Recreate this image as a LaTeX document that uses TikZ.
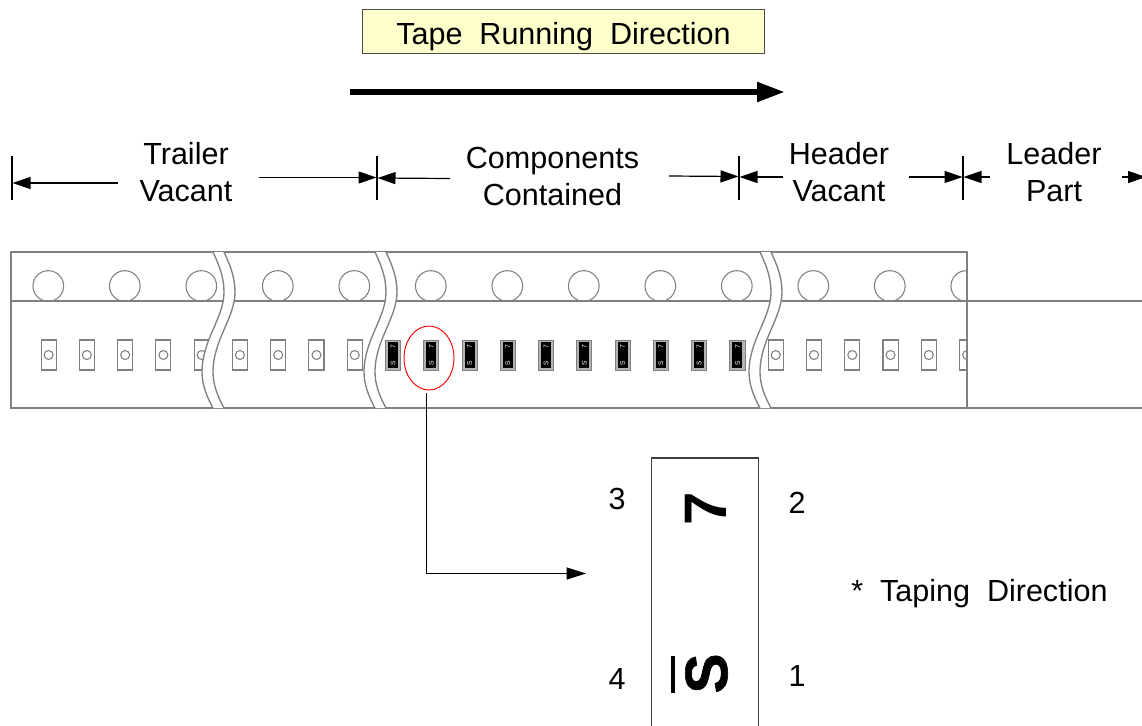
\documentclass[tikz,border=0pt]{standalone}
\usepackage{fontspec}
\setmainfont{Liberation Sans}
\newfontfamily\heavyfont[FakeBold=1]{Liberation Sans Bold}
\usetikzlibrary{arrows.meta,shapes.geometric}
\definecolor{tapeline}{HTML}{808080}
\definecolor{boxyellow}{HTML}{FFFFCC}
\newcommand{\breakband}[1]{%
  \begin{scope}[xshift=#1*0.75pt]
    \fill[white] (0,252) .. controls (6,265) and (11,277) .. (11,292) .. controls (11,318) and (-11,340) .. (-11,372) .. controls (-11,385) and (-6,397) .. (0,408)
      -- (11,408) .. controls (5,397) and (0,385) .. (0,372) .. controls (0,340) and (22,318) .. (22,292) .. controls (22,277) and (17,265) .. (11,252) -- cycle;
    \draw[tapestyle] (0,252) .. controls (6,265) and (11,277) .. (11,292) .. controls (11,318) and (-11,340) .. (-11,372) .. controls (-11,385) and (-6,397) .. (0,408);
    \draw[tapestyle] (11,252) .. controls (17,265) and (22,277) .. (22,292) .. controls (22,318) and (0,340) .. (0,372) .. controls (0,385) and (5,397) .. (11,408);
  \end{scope}}
\tikzset{
  tapestyle/.style={draw=tapeline,line width=1pt},
  thinstyle/.style={draw=tapeline,line width=0.8pt},
  label/.style={font=\fontsize{22.9}{28.2}\selectfont,align=center,inner sep=0pt,text=black},
  dimarrow/.style={draw=black,line width=0.9pt,-{Triangle[length=13.5pt,width=9pt]}},
  dimtick/.style={draw=black,line width=0.9pt},
  pocket/.style={thinstyle,fill=white,minimum width=11.3pt,minimum height=22.5pt,inner sep=0pt},
  chip/.style={draw=tapeline,line width=0.7pt,fill=black!30,minimum width=11.3pt,minimum height=22.5pt,inner sep=0pt},
}
\begin{document}
\begin{tikzpicture}[x=0.75pt,y=-0.75pt]
\useasboundingbox (0,0) rectangle (1142,725);
\clip (0,0) rectangle (1142,725);
% title and running arrow
\node[label,draw=black!70,line width=0.7pt,fill=boxyellow,minimum width=302pt,minimum height=33.5pt] (title) at (563.5,31.5) {\raisebox{-9.5pt}[0pt][0pt]{Tape\ \ Running\ \ Direction}};
\coordinate (runS) at (350,92);
\coordinate (runE) at (785,92);
\draw[line width=4.6pt,-{Triangle[length=21pt,width=14pt]}] (runS) -- (runE);
% dimension ticks
\foreach \n/\x in {a/12,b/377,c/739,d/963}{
  \coordinate (\n T) at (\x,156);
  \coordinate (\n B) at (\x,200);
  \draw[dimtick] (\n T) -- (\n B);
}
\node[label] (trailer) at (186,172) {Trailer\\Vacant};
\node[label] (components) at (552.5,176.5) {Components\\Contained};
\node[label] (header) at (839,172) {Header\\Vacant};
\node[label] (leader) at (1054,172) {Leader\\Part};
\coordinate (e1s) at (118,183); \coordinate (e1e) at (12.5,183);
\coordinate (e2s) at (259,177.5); \coordinate (e2e) at (376.5,177.5);
\coordinate (e3s) at (450,178.5); \coordinate (e3e) at (377.5,178);
\coordinate (e4s) at (669,176); \coordinate (e4e) at (738.5,176.5);
\coordinate (e5s) at (783,177); \coordinate (e5e) at (739.5,177);
\coordinate (e6s) at (909,177); \coordinate (e6e) at (962.5,177);
\coordinate (e7s) at (990,177); \coordinate (e7e) at (963.5,177);
\coordinate (e8s) at (1122,177); \coordinate (e8e) at (1146,177);
\foreach \i in {1,...,8}{ \draw[dimarrow] (e\i s) -- (e\i e); }
% tape outline
\draw[tapestyle] (11,252) rectangle (967,408);
\draw[tapestyle] (11,301) -- (1142,301);
\draw[tapestyle] (967,408) -- (1142,408);
% sprocket holes
\begin{scope}
\clip (0,240) rectangle (967,420);
\foreach \k in {0,...,12}{
  \pgfmathsetmacro{\hx}{48.3+76.5*\k}
  \node[thinstyle,circle,minimum size=23pt,inner sep=0pt] (hole\k) at (\hx,286) {};
}
% pockets
\foreach \k in {0,...,24}{
  \pgfmathsetmacro{\px}{48.6+38.27*\k}
  \pgfmathtruncatemacro{\full}{(\k>8 && \k<19)?1:0}
  \ifnum\full=1
    \node[chip] (p\k) at (\px,355) {};
    \fill[black] (\px-5,342) rectangle (\px+5,368);
    \node[text=white,font=\fontsize{5}{5}\selectfont,rotate=90,inner sep=0pt] at (\px,347) {7};
    \node[text=white,font=\fontsize{5}{5}\selectfont,rotate=90,inner sep=0pt] at (\px,363) {S};
  \else
    \node[pocket] (p\k) at (\px,355) {};
    \draw[thinstyle] (\px,355) circle (4.5);
  \fi
}
\end{scope}
\draw[tapestyle] (967,252) -- (967,408);
% tape breaks
\breakband{213}
\breakband{375}
\breakband{760}
% callout
\node[draw=red,line width=0.7pt,ellipse,minimum width=37.5pt,minimum height=48pt,inner sep=0pt] (mark) at (429,358) {};
\coordinate (calloutS) at (426.5,393);
\coordinate (calloutC) at (426.5,573.5);
\coordinate (calloutE) at (586,573.5);
\draw[draw=black,line width=0.8pt,-{Triangle[length=14.5pt,width=9pt]}] (calloutS) -- (calloutC) -- (calloutE);
% enlarged component
\coordinate (cBL) at (651.5,730);
\coordinate (cTL) at (651.5,458);
\coordinate (cTR) at (758.5,458);
\coordinate (cBR) at (758.5,730);
\draw[draw=black!75,line width=0.8pt] (cBL) -- (cTL) -- (cTR) -- (cBR);
\node[font=\fontsize{45}{45}\selectfont\bfseries,rotate=90,inner sep=0pt] (seven) at (706,508.5) {7};
\node[font=\fontsize{45}{45}\heavyfont,rotate=90,inner sep=0pt] (ess) at (706.5,673.5) {S};
\fill[black] (671,656) rectangle (675,693);
\node[label] (n3) at (617,499) {3};
\node[label] (n2) at (797,503) {2};
\node[label] (n4) at (617,679) {4};
\node[label] (n1) at (797,676) {1};
\node[label,anchor=west] (taping) at (851,594) {*\ \ Taping\ \ Direction};
\end{tikzpicture}
\end{document}
